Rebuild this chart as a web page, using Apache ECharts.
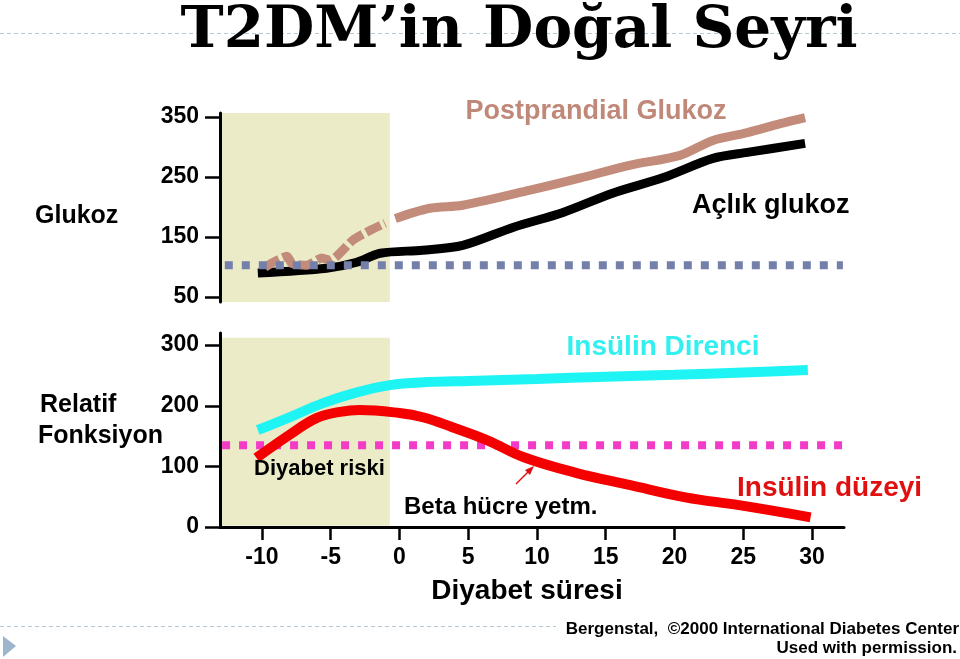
<!DOCTYPE html>
<html><head><meta charset="utf-8">
<script src="https://cdn.jsdelivr.net/npm/echarts@6/dist/echarts.min.js"></script>
<style>html,body{margin:0;padding:0;background:#fff}#c{width:960px;height:659px}</style>
</head><body><div id="c"></div>
<script>
// ---- data ----
const xTicks = [-10, -5, 0, 5, 10, 15, 20, 25, 30];
const glucoseTicks = [50, 150, 250, 350];
const funcTicks = [0, 100, 200, 300];

const ppgPreYears = [-9.78, -8.18, -7.82, -6.73, -5.64, -5.05, -3.38, -2.15, -1.05];
const ppgPreVals  = [100, 118, 106, 103, 115, 111, 145, 161, 173];
const ppgYears = [-0.3, 2.2, 4.6, 9.5, 13.1, 16.8, 20.4, 22.8, 25.3, 27.7, 29.5];
const ppgVals  = [181, 198, 203, 228, 248, 270, 286, 311, 324, 339, 349];
const fpgYears = [-10.3, -5.3, -3.1, -1.4, 1.7, 4.6, 8.25, 11.9, 15.5, 19.2, 22.8, 25.3, 29.5];
const fpgVals  = [90, 98, 108, 123, 128, 136, 166, 191, 223, 249, 281, 291, 306];
const normalYears = [-12.7, 32.25];
const normalVals = [103, 103];

const resYears = [-10.3, -8, -5.6, -3.1, -0.7, 2, 5, 10, 15, 20, 25, 29.7];
const resVals  = [160, 181, 204, 222, 234, 239, 241, 244, 248, 251, 255, 259];
const insYears = [-10.4, -8, -6, -4.3, -2.9, 0, 1.7, 3.8, 6.4, 9.05, 12.9, 16.8, 20.8, 24.7, 29.9];
const insVals  = [114, 152, 180, 190, 193, 188, 181, 165, 143, 115, 89, 69, 49, 36, 16];
const riskYears = [-12.9, 32.2];
const riskVals = [135, 135];

const preDiabetesEnd = -0.7;
const zip = (a, b) => a.map((v, i) => [v, b[i]]);

const F = '"Liberation Sans", Arial, sans-serif';
const XMIN = -13.05, XMAX = 32.33;
const shade = '#ebebc8';

const chart = echarts.init(document.getElementById('c'), null, {renderer: 'canvas'});

function yAx(grid, min, max, ticks) {
  return {
    type: 'value', gridIndex: grid, min: min, max: max, z: 10,
    axisLine: {show: true, onZero: false, lineStyle: {color: '#000', width: 3}},
    axisTick: {show: true, inside: false, length: 15, lineStyle: {color: '#000', width: 2.5}, customValues: ticks},
    axisLabel: {show: true, margin: 21, color: '#000', fontFamily: F, fontWeight: 'bold', fontSize: 23, customValues: ticks},
    splitLine: {show: false}
  };
}

const T = (text, x, y, font, fill, align) => ({type: 'text', z: 100,
  style: {text: text, x: x, y: y, font: font, fill: fill, textAlign: align || 'left', textVerticalAlign: 'middle'}});

const option = {
  animation: false,
  backgroundColor: '#fff',
  grid: [
    {left: 220, right: 116, top: 113, height: 189},
    {left: 220, right: 116, top: 333, height: 194}
  ],
  xAxis: [
    {type: 'value', gridIndex: 0, min: XMIN, max: XMAX, show: false},
    {type: 'value', gridIndex: 1, min: XMIN, max: XMAX, z: 10,
     axisLine: {show: true, onZero: false, lineStyle: {color: '#000', width: 3}},
     axisTick: {show: true, length: 13, lineStyle: {color: '#000', width: 2.5}, customValues: xTicks},
     axisLabel: {show: true, margin: 19, color: '#000', fontFamily: F, fontWeight: 'bold', fontSize: 23, customValues: xTicks},
     splitLine: {show: false}}
  ],
  yAxis: [
    yAx(0, 41.7, 356.7, glucoseTicks),
    yAx(1, 0, 320, funcTicks)
  ],
  series: [
    {type: 'line', xAxisIndex: 0, yAxisIndex: 0, data: [], silent: true, z: 1,
     markArea: {silent: true, itemStyle: {color: shade},
       data: [[{xAxis: XMIN, yAxis: 41.7}, {xAxis: preDiabetesEnd, yAxis: 356.7}]]}},
    {type: 'line', xAxisIndex: 1, yAxisIndex: 1, data: [], silent: true, z: 1,
     markArea: {silent: true, itemStyle: {color: shade},
       data: [[{xAxis: XMIN, yAxis: 2}, {xAxis: preDiabetesEnd, yAxis: 312}]]}},
    {name: 'fpg', type: 'line', xAxisIndex: 0, yAxisIndex: 0, data: zip(fpgYears, fpgVals),
     symbol: 'none', smooth: 0.3, lineStyle: {color: '#000', width: 9, cap: 'butt'}},
    {name: 'ppgPre', type: 'line', xAxisIndex: 0, yAxisIndex: 0, data: zip(ppgPreYears, ppgPreVals),
     symbol: 'none', smooth: 0.2, lineStyle: {color: '#c38b7a', width: 9, type: [16, 4], cap: 'butt'}},
    {name: 'ppg', type: 'line', xAxisIndex: 0, yAxisIndex: 0, data: zip(ppgYears, ppgVals),
     symbol: 'none', smooth: 0.3, lineStyle: {color: '#c38b7a', width: 9, cap: 'butt'}},
    {name: 'normal', type: 'line', xAxisIndex: 0, yAxisIndex: 0, data: zip(normalYears, normalVals),
     symbol: 'none', lineStyle: {color: '#7480aa', width: 8, type: [8, 9], cap: 'butt'}},
    {name: 'risk', type: 'line', xAxisIndex: 1, yAxisIndex: 1, data: zip(riskYears, riskVals),
     symbol: 'none', lineStyle: {color: '#f23cc8', width: 8, type: [8, 9], cap: 'butt'}},
    {name: 'res', type: 'line', xAxisIndex: 1, yAxisIndex: 1, data: zip(resYears, resVals),
     symbol: 'none', smooth: 0.4, lineStyle: {color: '#1ff4f4', width: 10, cap: 'butt'}},
    {name: 'ins', type: 'line', xAxisIndex: 1, yAxisIndex: 1, data: zip(insYears, insVals),
     symbol: 'none', smooth: 0.4, lineStyle: {color: '#f50000', width: 10, cap: 'butt'}}
  ],
  graphic: [
    {type: 'line', shape: {x1: 0, y1: 33.5, x2: 960, y2: 33.5}, z: -1,
     style: {stroke: '#b4c8d6', lineWidth: 1, lineDash: [4, 3]}},
    {type: 'line', shape: {x1: 0, y1: 626.5, x2: 556, y2: 626.5}, z: -1,
     style: {stroke: '#b4c8d6', lineWidth: 1, lineDash: [4, 3]}},
    {type: 'polygon', shape: {points: [[3, 636], [16, 646], [3, 657]]}, style: {fill: '#9db6cc'}},
    T('T2DM’in Doğal Seyri', 519, 32, 'bold 58px "DejaVu Serif", serif', '#000', 'center'),
    T('Glukoz', 35, 216, 'bold 25px ' + F, '#000'),
    T('Relatif', 40, 405, 'bold 25px ' + F, '#000'),
    T('Fonksiyon', 38, 436, 'bold 25px ' + F, '#000'),
    T('Postprandial Glukoz', 596, 112, 'bold 27px ' + F, '#c08878', 'center'),
    T('Açlık glukoz', 692, 206, 'bold 27px ' + F, '#000'),
    T('Insülin Direnci', 663, 347, 'bold 28px ' + F, '#33f0f0', 'center'),
    T('Diyabet riski', 254, 469, 'bold 22px ' + F, '#000'),
    T('Beta hücre yetm.', 404, 507, 'bold 24px ' + F, '#000'),
    T('Insülin düzeyi', 737, 488, 'bold 28px ' + F, '#e01010'),
    T('Diyabet süresi', 527, 591, 'bold 28px ' + F, '#000', 'center'),
    T('Bergenstal,  ©2000 International Diabetes Center', 959, 629, 'bold 17px ' + F, '#000', 'right'),
    T('Used with permission.', 957, 648, 'bold 17px ' + F, '#000', 'right'),
    {type: 'line', z: 100, shape: {x1: 516, y1: 484, x2: 530, y2: 470}, style: {stroke: '#e01010', lineWidth: 1.5}},
    {type: 'polygon', z: 100, shape: {points: [[534, 466], [525, 470], [530, 475]]}, style: {fill: '#e01010'}}
  ]
};
chart.setOption(option);
</script>
</body></html>
